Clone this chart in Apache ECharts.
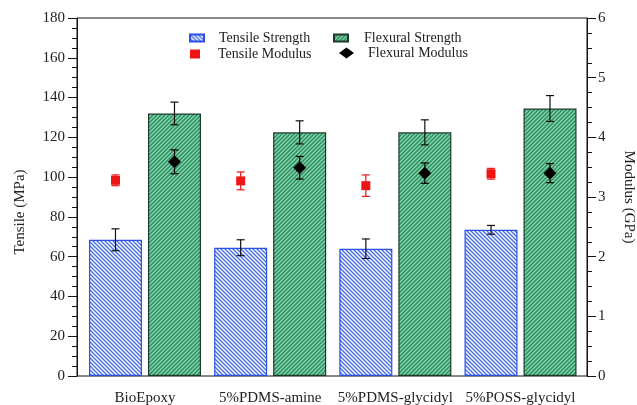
<!DOCTYPE html>
<html>
<head>
<meta charset="utf-8">
<script src="https://cdn.jsdelivr.net/npm/echarts@6/dist/echarts.min.js"></script>
<style>
  html, body { margin: 0; padding: 0; background: #fff; }
  #chart { width: 637px; height: 405px; }
</style>
</head>
<body>
<div id="chart"></div>
<script>
// Mechanical properties of the epoxy formulations
const categories = ['BioEpoxy', '5%PDMS-amine', '5%PDMS-glycidyl', '5%POSS-glycidyl'];

// Strength (MPa), left axis
const tensileStrength = [68.5, 64.5, 64.0, 73.5];
const tensileStrengthErr = [5.5, 4.0, 4.9, 2.2];
const flexuralStrength = [132.0, 122.5, 122.5, 134.5];
const flexuralStrengthErr = [5.7, 5.8, 6.3, 6.5];

// Modulus (GPa), right axis
const tensileModulus = [3.28, 3.27, 3.19, 3.39];
const tensileModulusErr = [0.09, 0.15, 0.18, 0.09];
const flexuralModulus = [3.59, 3.49, 3.40, 3.40];
const flexuralModulusErr = [0.20, 0.19, 0.17, 0.16];

// Axis tick settings
const strengthMin = 0, strengthMax = 180, strengthStep = 20;
const modulusMin = 0, modulusMax = 6, modulusStep = 1;

const FONT = '"Liberation Serif", "Times New Roman", serif';
const BAR_W = 53;
const BAR_GAP = 6;
const HALF = (BAR_W + BAR_GAP) / 2;

function hatch(bg, fg, dir, size, lw) {
  const c = document.createElement('canvas');
  c.width = size; c.height = size;
  const g = c.getContext('2d');
  g.fillStyle = bg;
  g.fillRect(0, 0, size, size);
  g.strokeStyle = fg;
  g.lineWidth = lw;
  g.beginPath();
  if (dir === '/') {
    g.moveTo(-1, 1); g.lineTo(1, -1);
    g.moveTo(0, size); g.lineTo(size, 0);
    g.moveTo(size - 1, size + 1); g.lineTo(size + 1, size - 1);
  } else {
    g.moveTo(-1, size - 1); g.lineTo(1, size + 1);
    g.moveTo(0, 0); g.lineTo(size, size);
    g.moveTo(size - 1, -1); g.lineTo(size + 1, 1);
  }
  g.stroke();
  return c;
}

const blueHatch = { image: hatch('#ffffff', '#4a6fe3', '\\', 4, 1.4), repeat: 'repeat' };
const greenHatch = { image: hatch('#80d6ab', '#2f8a5f', '/', 4, 1.4), repeat: 'repeat' };

function pairs(vals, errs) {
  return vals.map((v, i) => [i, v, errs[i]]);
}

// error bar (with optional marker) drawn at the centre of one bar of a group
function errorBar(offset, color, marker) {
  return function (params, api) {
    const i = api.value(0), v = api.value(1), e = api.value(2);
    const c = api.coord([i, v]);
    const x = c[0] + offset, y = c[1];
    const yt = api.coord([i, v + e])[1];
    const yb = api.coord([i, v - e])[1];
    const cap = 4;
    const ls = { stroke: color, lineWidth: 1.2 };
    const children = [
      { type: 'line', shape: { x1: x, y1: yt, x2: x, y2: yb }, style: ls },
      { type: 'line', shape: { x1: x - cap, y1: yt, x2: x + cap, y2: yt }, style: ls },
      { type: 'line', shape: { x1: x - cap, y1: yb, x2: x + cap, y2: yb }, style: ls }
    ];
    if (marker === 'square') {
      children.push({ type: 'rect', shape: { x: x - 4.5, y: y - 4.5, width: 9, height: 9 },
        style: { fill: color } });
    } else if (marker === 'diamond') {
      children.push({ type: 'polygon',
        shape: { points: [[x, y - 6.5], [x + 6.5, y], [x, y + 6.5], [x - 6.5, y]] },
        style: { fill: color } });
    }
    return { type: 'group', children: children };
  };
}

const axisLabelStyle = { fontFamily: FONT, fontSize: 15, color: '#222' };

const option = {
  animation: false,
  backgroundColor: '#ffffff',
  grid: [
    // frame carrying the two value axes
    { left: 77, right: 50, top: 18, bottom: 29, outerBoundsMode: 'none', containLabel: false,
      show: true, borderColor: '#111', borderWidth: 1, backgroundColor: 'transparent' },
    // plotting area for the grouped bars
    { left: 82.4, right: 53.9, top: 18, bottom: 29, outerBoundsMode: 'none', containLabel: false }
  ],
  xAxis: [
    { type: 'category', gridIndex: 0, data: categories, show: false },
    {
      type: 'category', gridIndex: 1, data: categories,
      axisLine: { show: false }, axisTick: { show: false },
      axisLabel: { fontFamily: FONT, fontSize: 15, color: '#222', margin: 15, interval: 0 }
    }
  ],
  yAxis: [
    {
      type: 'value', gridIndex: 0, position: 'left',
      min: strengthMin, max: strengthMax, interval: strengthStep,
      name: 'Tensile (MPa)', nameLocation: 'middle', nameGap: 49,
      nameTextStyle: { fontFamily: FONT, fontSize: 15, color: '#222', padding: [0, 30, 0, 0] },
      axisLine: { show: true, lineStyle: { color: '#111', width: 1 } },
      axisTick: { show: true, inside: false, length: 9, lineStyle: { color: '#111' } },
      minorTick: { show: true, splitNumber: 4, length: 5, lineStyle: { color: '#111' } },
      axisLabel: Object.assign({ margin: 12 }, axisLabelStyle),
      splitLine: { show: false }
    },
    {
      type: 'value', gridIndex: 0, position: 'right',
      min: modulusMin, max: modulusMax, interval: modulusStep,
      name: 'Modulus (GPa)', nameLocation: 'middle', nameGap: 34, nameRotate: -90,
      nameTextStyle: { fontFamily: FONT, fontSize: 15, color: '#222' },
      axisLine: { show: true, lineStyle: { color: '#111', width: 1 } },
      axisTick: { show: true, inside: false, length: 9, lineStyle: { color: '#111' } },
      minorTick: { show: true, splitNumber: 4, length: 5, lineStyle: { color: '#111' } },
      axisLabel: Object.assign({ margin: 11 }, axisLabelStyle),
      splitLine: { show: false }
    },
    { type: 'value', gridIndex: 1, min: strengthMin, max: strengthMax, show: false, splitLine: { show: false } },
    { type: 'value', gridIndex: 1, min: modulusMin, max: modulusMax, show: false, splitLine: { show: false } }
  ],
  legend: [
    {
      data: [{ name: 'Tensile Strength', icon: 'rect' }],
      left: 189, top: 31, padding: 0, itemWidth: 14, itemHeight: 7,
      textStyle: { fontFamily: FONT, fontSize: 14, color: '#222', padding: [0, 0, 0, 10] }
    },
    {
      data: [{ name: 'Flexural Strength', icon: 'rect' }],
      left: 333, top: 31, padding: 0, itemWidth: 14, itemHeight: 7,
      textStyle: { fontFamily: FONT, fontSize: 14, color: '#222', padding: [0, 0, 0, 11] }
    },
    {
      data: [{ name: 'Tensile Modulus', icon: 'rect' }],
      left: 190, top: 47, padding: 0, itemWidth: 10, itemHeight: 9,
      textStyle: { fontFamily: FONT, fontSize: 14, color: '#222', padding: [0, 0, 0, 13] }
    },
    {
      data: [{ name: 'Flexural Modulus', icon: 'diamond' }],
      left: 339, top: 46, padding: 0, itemWidth: 15, itemHeight: 11,
      textStyle: { fontFamily: FONT, fontSize: 14, color: '#222', padding: [0, 0, 0, 9] }
    }
  ],
  series: [
    {
      name: 'Tensile Strength', type: 'bar', xAxisIndex: 1, yAxisIndex: 2,
      data: tensileStrength, barWidth: BAR_W, barGap: (BAR_GAP / BAR_W * 100) + '%',
      itemStyle: { color: blueHatch, borderColor: '#2a4fe6', borderWidth: 1.2 }
    },
    {
      name: 'Flexural Strength', type: 'bar', xAxisIndex: 1, yAxisIndex: 2,
      data: flexuralStrength, barWidth: BAR_W,
      itemStyle: { color: greenHatch, borderColor: '#1c3a2b', borderWidth: 1.2 }
    },
    {
      name: 'Tensile Strength err', type: 'custom', xAxisIndex: 1, yAxisIndex: 2, z: 5,
      data: pairs(tensileStrength, tensileStrengthErr),
      renderItem: errorBar(-HALF, '#111', null), encode: { x: 0, y: 1 }
    },
    {
      name: 'Flexural Strength err', type: 'custom', xAxisIndex: 1, yAxisIndex: 2, z: 5,
      data: pairs(flexuralStrength, flexuralStrengthErr),
      renderItem: errorBar(HALF, '#111', null), encode: { x: 0, y: 1 }
    },
    {
      name: 'Tensile Modulus', type: 'custom', xAxisIndex: 1, yAxisIndex: 3, z: 6,
      itemStyle: { color: '#ee1515' },
      data: pairs(tensileModulus, tensileModulusErr),
      renderItem: errorBar(-HALF, '#ee1515', 'square'), encode: { x: 0, y: 1 }
    },
    {
      name: 'Flexural Modulus', type: 'custom', xAxisIndex: 1, yAxisIndex: 3, z: 6,
      itemStyle: { color: '#000000' },
      data: pairs(flexuralModulus, flexuralModulusErr),
      renderItem: errorBar(HALF, '#000000', 'diamond'), encode: { x: 0, y: 1 }
    }
  ]
};

const chart = echarts.init(document.getElementById('chart'), null, { renderer: 'canvas' });
chart.setOption(option);
</script>
</body>
</html>
